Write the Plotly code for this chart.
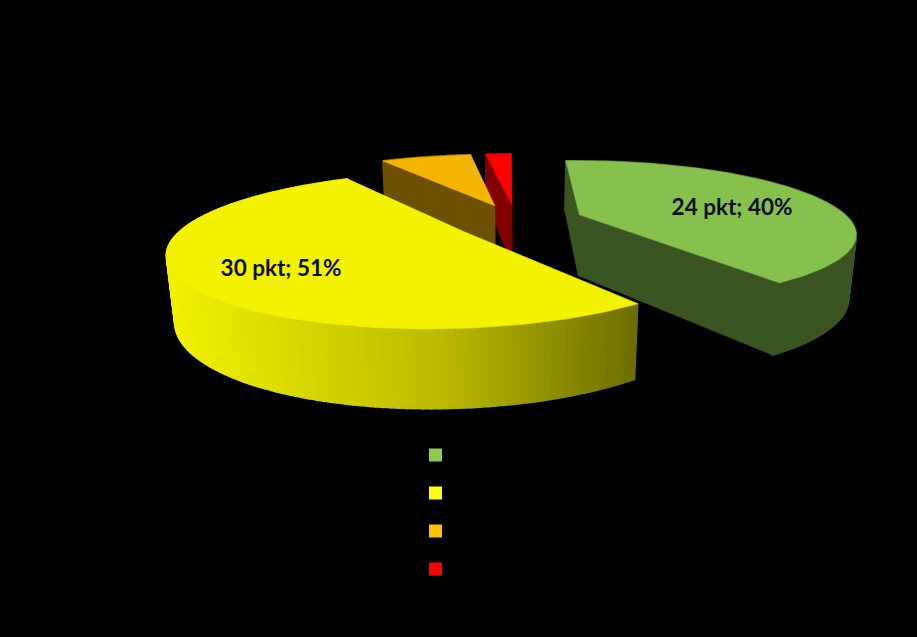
import numpy as np
import plotly.graph_objects as go

# data
categories = ["A", "B", "C", "D"]
points = [24, 30, 4, 1]
shares = [40, 51, 7, 2]
labels = ["24 pkt; 40%", "30 pkt; 51%", None, None]

# styles
top_colors = ["#85c14c", "#f3f300", "#f4b400", "#ff0000"]
wall_colors = ["#3b5522", None, "#6e5100", "#800000"]
legend_colors = ["#8fcb50", "#ffff00", "#ffc000", "#ff0000"]

# view of the tilted pie
OX, OY, SX, SY, K, M, H = 519.0, 221.0, 261.0, 69.0, 0.228, 0.022, 63.0
E, TH0 = 0.253, -3.0
RIM_SHIFT = [1.17, 1.28, 1.32, 1.32]
ANGLE_TWEAK = [(0, 5.5), (1, 5), (4, 4), (3, 3)]
W, HT = 917, 637


def prj(X, V, d=0.0):
    X, V = np.asarray(X, float), np.asarray(V, float)
    w = 1 + K * V + M * d
    return OX + SX * X / w, OY + (-SY * V + H * d) / w


def poly(xs, ys, color, lw=0.6):
    return go.Scatter(x=list(xs), y=list(ys), mode="lines", fill="toself", fillcolor=color,
                      line=dict(color=color, width=lw), hoverinfo="skip", showlegend=False)


def ramp(x):
    return np.interp(x, [165, 250, 440, 636], [242, 226, 187, 110])


fig = go.Figure()
edges = TH0 + np.cumsum([0] + shares) * 360.0 / sum(shares)
slices = {}
for i in range(4):
    a0, a1 = edges[i], edges[i + 1]
    mid = np.radians((a0 + a1) / 2)
    X0, V0 = E * np.sin(mid), E * np.cos(mid)
    t = np.radians(np.linspace(a0 + ANGLE_TWEAK[i][0], a1 + ANGLE_TWEAK[i][1], 140))
    RX, RV = X0 * RIM_SHIFT[i] + np.sin(t), V0 + np.cos(t)
    slices[i] = (X0, V0, RX, RV)

for i in [3, 2, 0, 1]:
    X0, V0, RX, RV = slices[i]
    ax, ay = prj(X0, V0)
    bx, by = prj(X0, V0, 1)
    tx, ty = prj(RX, RV)
    ux, uy = prj(RX, RV, 1)
    if wall_colors[i]:
        c = wall_colors[i]
        qx, qy = [], []
        for j in range(len(tx) - 1):
            qx += [tx[j], tx[j + 1], ux[j + 1], ux[j], tx[j], None]
            qy += [ty[j], ty[j + 1], uy[j + 1], uy[j], ty[j], None]
        fig.add_trace(poly(qx, qy, c, 1.6))
        fig.add_trace(poly([ax, tx[0], ux[0], bx, ax], [ay, ty[0], uy[0], by, ay], c))
        fig.add_trace(poly([ax, tx[-1], ux[-1], bx, ax], [ay, ty[-1], uy[-1], by, ay], c))
    else:
        for j in range(len(tx) - 1):
            g = int(ramp((tx[j] + tx[j + 1]) / 2))
            c = f"rgb({g},{g},0)"
            fig.add_trace(poly([tx[j], tx[j + 1], ux[j + 1], ux[j], tx[j]],
                               [ty[j], ty[j + 1], uy[j + 1], uy[j], ty[j]], c, 1.4))
    fig.add_trace(poly([ax] + list(tx) + [ax], [ay] + list(ty) + [ay], top_colors[i]))

# labels
fig.add_trace(go.Scatter(x=[732, 281], y=[209, 270], mode="text", text=[labels[0], labels[1]],
                         textfont=dict(family="Lato", size=22.5, color="#0c0c0c", weight="bold"),
                         textposition="middle center", hoverinfo="skip", showlegend=False))
# legend keys
fig.add_trace(go.Scatter(x=[435.5] * 4, y=[455, 493, 531, 569], mode="markers",
                         marker=dict(symbol="square", size=13, color=legend_colors, line=dict(width=0)),
                         text=categories, hoverinfo="skip", showlegend=False))

fig.update_layout(width=W, height=HT, margin=dict(l=0, r=0, t=0, b=0), paper_bgcolor="black",
                  plot_bgcolor="black", showlegend=False,
                  xaxis=dict(range=[0, W], visible=False, fixedrange=True),
                  yaxis=dict(range=[HT, 0], visible=False, fixedrange=True))
fig.write_html("out.html", config=dict(displayModeBar=False),
               post_script="document.body.style.margin='0';document.body.style.background='black';document.body.style.overflow='hidden';")
